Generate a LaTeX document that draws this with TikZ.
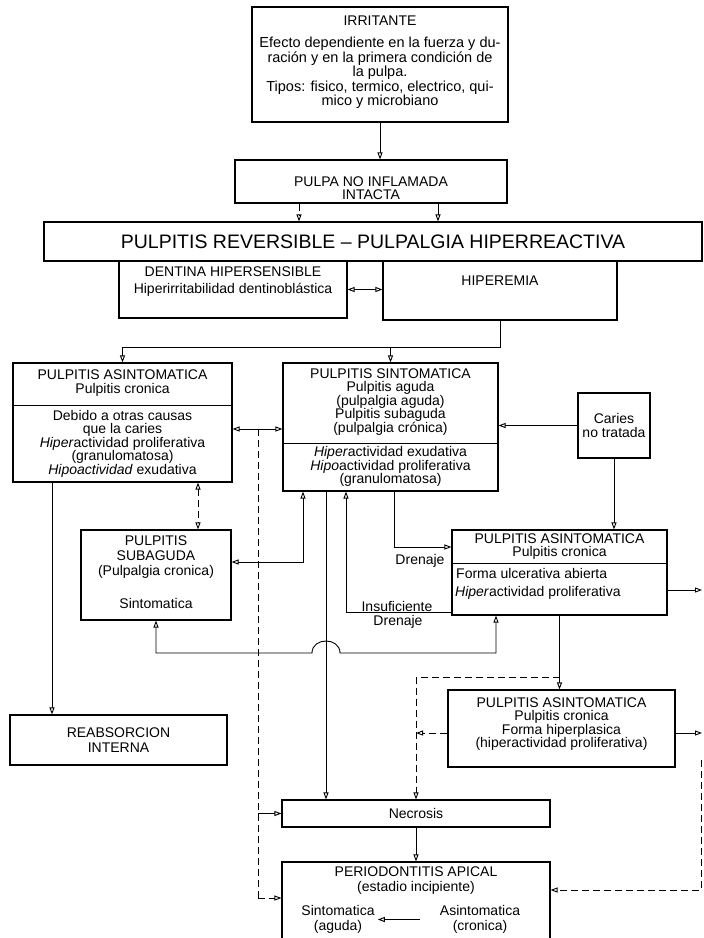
\documentclass[tikz,border=0pt]{standalone}
\usepackage{fontspec}
\setmainfont{Liberation Sans}
\usetikzlibrary{arrows.meta}

\begin{document}
\begin{tikzpicture}[x=1pt,y=-1pt,
    box/.style={draw, line width=1.1pt, inner sep=0pt},
    txt/.style={inner sep=0pt, align=center, font=\fontsize{14}{13.5}\selectfont},
    con/.style={line width=0.9pt},
    arr/.style={con, -{Triangle[open,length=7pt,width=5pt]}},
    arrs/.style={con, {Triangle[open,length=7pt,width=5pt]}-{Triangle[open,length=7pt,width=5pt]}},
    dsh/.style={dash pattern=on 7pt off 4pt}]
  \useasboundingbox (0,0) rectangle (704,938);

  \node[box, minimum width=256pt, minimum height=115pt] (irr) at (380,64.5) {};
  \node[txt] (irrhd) at (380,21) {IRRITANTE};
  \node[txt, font=\fontsize{14.5}{13.5}\selectfont] (irrtx) at (380,73) {Efecto dependiente en la fuerza y du-\\ración y en la primera condición de\\la pulpa.\\Tipos: fisico, termico, electrico, qui-\\mico y microbiano};

  \node[box, minimum width=272pt, minimum height=43pt] (pulpa) at (371,181.5) {};
  \node[txt] (pulpatx) at (371,188) {PULPA NO INFLAMADA\\INTACTA};

  \node[box, minimum width=658pt, minimum height=39pt, font=\fontsize{19.5}{20}\selectfont] (rev) at (373,241.5) {PULPITIS REVERSIBLE – PULPALGIA HIPERREACTIVA};

  \node[box, minimum width=228pt, minimum height=57pt] (dent) at (233,289.5) {};
  \node[txt] (denttx) at (233,281.5) {DENTINA HIPERSENSIBLE\\[3pt]Hiperirritabilidad dentinoblástica};
  \node[box, minimum width=234pt, minimum height=59pt] (hip) at (500,290.5) {};
  \node[txt] (hiptx) at (500,281) {HIPEREMIA};

  \node[box, minimum width=219pt, minimum height=119pt] (asin) at (122.5,422.5) {};
  \draw[con] (asin.west |- 0,405) -- (asin.east |- 0,405);
  \node[txt, font=\fontsize{14}{14.5}\selectfont] (asintx) at (122.5,383) {PULPITIS ASINTOMATICA\\Pulpitis cronica};
  \node[txt] (asindet) at (122.5,443.5) {Debido a otras causas\\que la caries\\\textit{Hiper}actividad proliferativa\\(granulomatosa)\\\textit{Hipoactividad} exudativa};

  \node[box, minimum width=215pt, minimum height=128pt] (sint) at (390.5,427) {};
  \draw[con] (sint.west |- 0,443) -- (sint.east |- 0,443);
  \node[txt] (sinttx) at (390.5,402) {PULPITIS SINTOMATICA\\Pulpitis aguda\\(pulpalgia aguda)\\Pulpitis subaguda\\(pulpalgia crónica)};
  \node[txt] (sintdet) at (390.5,466.5) {\textit{Hiper}actividad exudativa\\\textit{Hipo}actividad proliferativa\\(granulomatosa)};

  \node[box, txt, minimum width=72pt, minimum height=65pt] (caries) at (614,425.5) {Caries\\no tratada};

  \node[box, minimum width=150pt, minimum height=90pt] (suba) at (156,575) {};
  \node[txt, font=\fontsize{14}{15}\selectfont] (subatx) at (156,557) {PULPITIS\\SUBAGUDA\\(Pulpalgia cronica)};
  \node[txt] (subasin) at (156,603) {Sintomatica};

  \node[box, minimum width=215pt, minimum height=85pt] (asin1) at (559.5,572.5) {};
  \draw[con] (asin1.west |- 0,563) -- (asin1.east |- 0,563);
  \node[txt] (asin1tx) at (559.5,546.5) {PULPITIS ASINTOMATICA\\Pulpitis cronica};
  \node[txt, anchor=west] (ulcer) at (456,573) {Forma ulcerativa abierta};
  \node[txt, anchor=west] (prolif) at (455,593) {\textit{Hiper}actividad proliferativa};

  \node[box, minimum width=227pt, minimum height=77pt] (asin2) at (561.5,728.5) {};
  \node[txt] (asin2tx) at (561.5,724) {PULPITIS ASINTOMATICA\\Pulpitis cronica\\Forma hiperplasica\\(hiperactividad proliferativa)};

  \node[box, txt, font=\fontsize{14}{15}\selectfont, minimum width=217pt, minimum height=50pt] (reab) at (118.5,740) {REABSORCION\\INTERNA};

  \node[box, txt, minimum width=268pt, minimum height=27pt] (necr) at (416,813.5) {Necrosis};

  \node[box, minimum width=268pt, minimum height=98pt] (perio) at (416,911) {};
  \node[txt, font=\fontsize{14}{15}\selectfont] (periotx) at (416,880.5) {PERIODONTITIS APICAL\\(estadio incipiente)};
  \node[txt, font=\fontsize{14}{15}\selectfont] (sintom) at (338,919.5) {Sintomatica\\(aguda)};
  \node[txt, font=\fontsize{14}{15}\selectfont] (asintom) at (480,919.5) {Asintomatica\\(cronica)};

  \node[txt] (dren) at (420,561) {Drenaje};
  \node[txt] (insuf) at (397,606) {Insuficiente};
  \node[txt] (insdren) at (398,622) {Drenaje};

  \coordinate (hsplit) at (500,347);
  \coordinate (dtop) at (258,429);
  \coordinate (dsplit) at (559.5,677);
  \coordinate (out1) at (702,590);
  \coordinate (out2) at (702,733);
  \coordinate (ret) at (701,760);

  \draw[arr] (irr.south) -- (irr.south |- pulpa.north);
  \draw[arr, dsh] ([xshift=-72pt]pulpa.south) -- ([xshift=-72pt]pulpa.south |- rev.north);
  \draw[arr] ([xshift=67pt]pulpa.south) -- ([xshift=67pt]pulpa.south |- rev.north);
  \draw[arrs] (dent.east) -- (dent.east -| hip.west);
  \draw[arr] (hip.south) -- (hsplit) -| (asin.north);
  \draw[arr] (sint.north |- hsplit) -- (sint.north);

  \draw[arrs] (asin.east |- dtop) -- (sint.west |- dtop);
  \draw[con, dsh] (dtop) -- (dtop |- 0,898);
  \draw[arr, dsh] (dtop |- 0,898) -- (perio.west |- 0,898);
  \draw[arr] (dtop |- necr.west) -- (necr.west);
  \draw[arrs, dsh] (asin.south -| 198,0) -- (suba.north -| 198,0);
  \draw[arr] (asin.south -| 52,0) -- (reab.north -| 52,0);
  \draw[arrs] (suba.east |- 0,562) -| (sint.south -| 303,0);

  \draw[arr] (caries.west) -- (caries.west -| sint.east);
  \draw[arr] (caries.south) -- (caries.south |- asin1.north);
  \draw[arr] (sint.south -| 394,0) |- (asin1.west |- 0,547);
  \draw[arr] (asin1.west |- 0,612) -| (sint.south -| 346,0);
  \draw[arrs] (suba.south) |- (312,653) .. controls (312,637) and (340,637) .. (340,653) -| (asin1.south -| 496,0);
  \draw[arr] (sint.south -| 326,0) -- (necr.north -| 326,0);

  \draw[arr] (asin1.east |- out1) -- (out1);
  \draw[arr] (asin1.south) -- (asin1.south |- asin2.north);
  \draw[arr, dsh] (dsplit) -| (necr.north);
  \draw[arr, dsh] (asin2.west |- out2) -- (asin2.west |- out2 -| necr.north);
  \draw[arr] (asin2.east |- out2) -- (out2);
  \draw[arr] (necr.south) -- (necr.south |- perio.north);
  \draw[arr, dsh] (ret) |- (perio.east |- 0,890);
  \draw[arr, shorten <=20pt, shorten >=3pt] (asintom.west) -- (asintom.west -| sintom.east);
\end{tikzpicture}
\end{document}
